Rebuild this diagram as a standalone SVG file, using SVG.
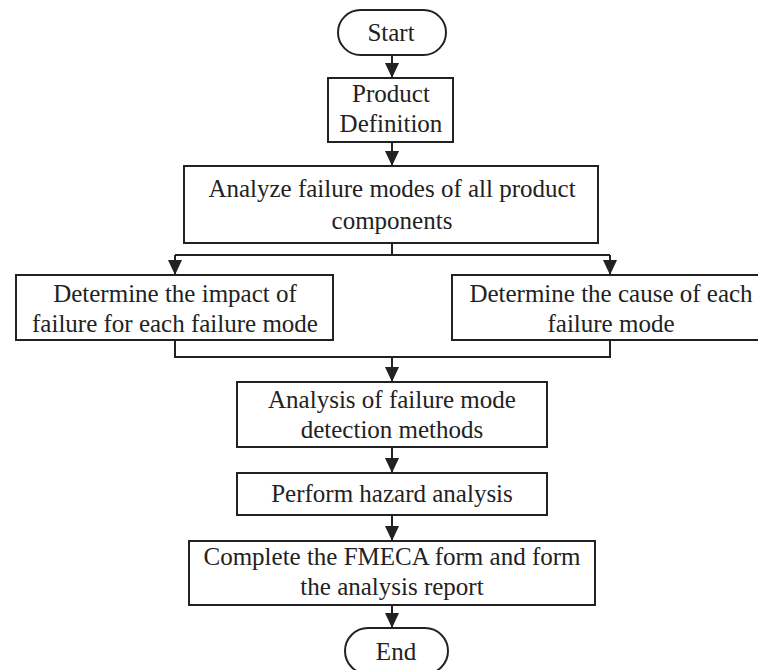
<svg xmlns="http://www.w3.org/2000/svg" width="758" height="670" viewBox="0 0 758 670">
<style>
.b{fill:#fff;stroke:#222;stroke-width:2}
.c{fill:none;stroke:#222;stroke-width:2}
.t{font-family:'Liberation Serif','Times New Roman',serif;font-size:25px;fill:#222;text-anchor:middle}
</style>
<rect width="758" height="670" fill="#fff"/>
<g id="connectors">
<path class="c" d="M392,55V78"/>
<path d="M385,63L399,63L392,78Z" fill="#222"/>
<path class="c" d="M392,142V166"/>
<path d="M385,151L399,151L392,166Z" fill="#222"/>
<path class="c" d="M392,243V255M175,255H610M175,255V275M610,255V275"/>
<path d="M168,260L182,260L175,275Z" fill="#222"/>
<path d="M603,260L617,260L610,275Z" fill="#222"/>
<path class="c" d="M175,340V357H610V340M392,357V382"/>
<path d="M385,367L399,367L392,382Z" fill="#222"/>
<path class="c" d="M392,447V473"/>
<path d="M385,458L399,458L392,473Z" fill="#222"/>
<path class="c" d="M392,515V541"/>
<path d="M385,526L399,526L392,541Z" fill="#222"/>
<path class="c" d="M392,605V628"/>
<path d="M385,613L399,613L392,628Z" fill="#222"/>
</g>
<g class="t">
<g id="start"><rect class="b" x="338" y="10" width="108" height="45" rx="22.5"/><text x="391" y="41">Start</text></g>
<g id="product"><rect class="b" x="328" y="78" width="125" height="64"/><text x="391" y="102">Product</text><text x="391" y="132">Definition</text></g>
<g id="analyze"><rect class="b" x="184" y="166" width="414" height="77"/><text x="392" y="197">Analyze failure modes of all product</text><text x="392" y="229">components</text></g>
<g id="impact"><rect class="b" x="16" y="275" width="317" height="65"/><text x="175" y="302">Determine the impact of</text><text x="175" y="332">failure for each failure mode</text></g>
<g id="cause"><rect class="b" x="452" y="275" width="318" height="65"/><text x="611" y="302">Determine the cause of each</text><text x="611" y="332">failure mode</text></g>
<g id="detection"><rect class="b" x="237" y="382" width="310" height="65"/><text x="392" y="408">Analysis of failure mode</text><text x="392" y="438">detection methods</text></g>
<g id="hazard"><rect class="b" x="237" y="473" width="310" height="42"/><text x="392" y="502">Perform hazard analysis</text></g>
<g id="complete"><rect class="b" x="189" y="541" width="406" height="64"/><text x="392" y="565">Complete the FMECA form and form</text><text x="392" y="595">the analysis report</text></g>
<g id="end"><rect class="b" x="345" y="628" width="103" height="46" rx="23"/><text x="396" y="660">End</text></g>
</g>
</svg>
